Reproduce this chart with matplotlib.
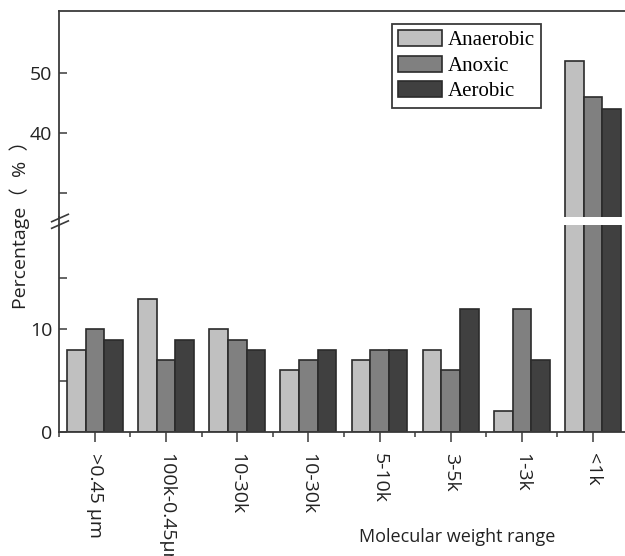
import matplotlib
matplotlib.use("Agg")
import matplotlib.pyplot as plt
import numpy as np
from matplotlib.lines import Line2D

categories = ['>0.45 µm', '100k-0.45µm', '10-30k', '10-30k', '5-10k', '3-5k', '1-3k', '<1k']
anaerobic = [8, 13, 10, 6, 7, 8, 2, 52]
anoxic = [10, 7, 9, 7, 8, 6, 12, 46]
aerobic = [9, 9, 8, 8, 8, 12, 7, 44]
series_names = ['Anaerobic', 'Anoxic', 'Aerobic']
series_colors = ['#c0c0c0', '#808080', '#404040']
lower_ticks = [0, 5, 10, 15]
lower_labels = ['0', '', '10', '']
upper_ticks = [30, 40, 50]
upper_labels = ['', '40', '50']

plt.rcParams['font.family'] = ['Open Sans', 'Noto Sans CJK SC', 'DejaVu Sans']

W, H = 625, 556
fig = plt.figure(figsize=(W / 100, H / 100), dpi=100)

def fx(px):
    return px / W

def fy(py):
    return (H - py) / H

left, right = 59.3, 625.0
ax_low = fig.add_axes([fx(left), fy(431.7), fx(right - left), fy(225) - fy(431.7)])
ax_up = fig.add_axes([fx(left), fy(216.7), fx(right - left), fy(10.7) - fy(216.7)])

x = np.arange(len(categories))
bw = 0.262
series = [anaerobic, anoxic, aerobic]
for ax in (ax_low, ax_up):
    for i, (vals, col, name) in enumerate(zip(series, series_colors, series_names)):
        ax.bar(x + (i - 1) * bw, vals, width=bw, color=col, edgecolor='#2b2b2b',
               linewidth=1.2, label=name, zorder=2)
    ax.set_xlim(-0.5, 7.45)
    ax.spines['right'].set_visible(False)
    for s in ['left', 'top', 'bottom']:
        ax.spines[s].set_color('#3a3a3a')
        ax.spines[s].set_linewidth(1.3)
    ax.tick_params(axis='y', direction='in', length=6, width=1.1, color='#3a3a3a',
                   labelsize=14, pad=5, labelcolor='#222222')

ax_low.set_ylim(0, 20.19)
ax_up.set_ylim(26, 60.3)
ax_low.spines['top'].set_visible(False)
ax_up.spines['bottom'].set_visible(False)

ax_low.set_yticks(lower_ticks)
ax_low.set_yticklabels(lower_labels)
ax_up.set_yticks(upper_ticks)
ax_up.set_yticklabels(upper_labels)

ax_up.tick_params(axis='x', which='both', bottom=False, labelbottom=False, top=False)
ax_low.set_xticks(x)
ax_low.set_xticks(np.arange(len(categories)) - 0.5, minor=True)
ax_low.set_xticklabels(categories, rotation=-90, fontsize=14, va='top', ha='center',
                       color='#222222')
ax_low.tick_params(axis='x', which='major', direction='out', length=7, width=1.1,
                   color='#3a3a3a', pad=8)
ax_low.tick_params(axis='x', which='minor', direction='out', length=3.5, width=1.1,
                   color='#3a3a3a')

# axis break: continuous spine and slash marks
fig.add_artist(Line2D([fx(left), fx(left)], [fy(225), fy(216.7)], color='#3a3a3a',
                      linewidth=1.3))
for dy in (0, 6.6):
    fig.add_artist(Line2D([fx(51.7), fx(68.3)], [fy(221.7 + dy), fy(214.3 + dy)],
                          color='#3a3a3a', linewidth=1.2))

fig.text(fx(20), fy(220), 'Percentage（  %  ）', rotation=90, fontsize=14,
         ha='center', va='center', color='#222222',
         family=['Open Sans', 'Noto Sans CJK SC'])
fig.text(fx(457), fy(537), 'Molecular weight range', fontsize=13,
         ha='center', va='center', color='#222222')

handles, labels = ax_up.get_legend_handles_labels()
leg = fig.legend(handles, labels, loc='upper left',
                 bbox_to_anchor=(fx(391.7), fy(24)),
                 prop={'family': 'Liberation Serif', 'size': 15},
                 frameon=True, fancybox=False, framealpha=1,
                 edgecolor='#3a3a3a', borderpad=0.3, labelspacing=0.25,
                 handlelength=2.1, handleheight=0.8, handletextpad=0.3,
                 borderaxespad=0)
leg.get_frame().set_linewidth(1.3)

fig.savefig('out.png', dpi=100)
